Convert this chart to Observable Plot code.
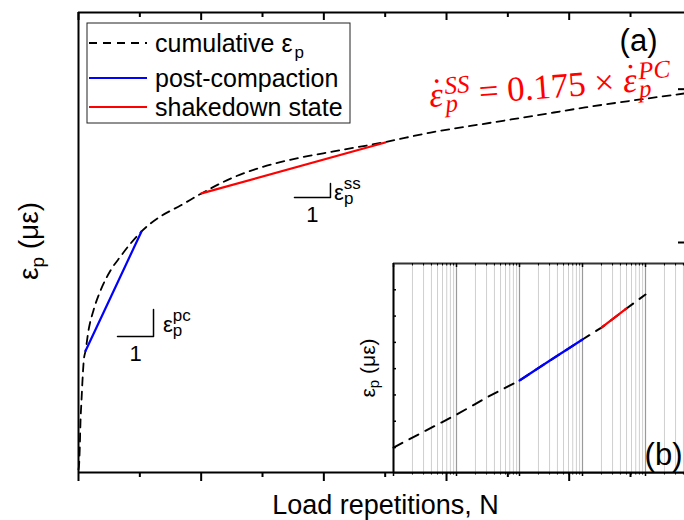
<!DOCTYPE html>
<html><head><meta charset="utf-8">
<script src="https://cdn.jsdelivr.net/npm/d3@7"></script>
<script src="https://cdn.jsdelivr.net/npm/@observablehq/plot@0.6"></script>
<style>
html,body{margin:0;padding:0;background:#fff;}
#wrap{position:relative;width:684px;height:520px;overflow:hidden;background:#fff;}
#wrap svg{position:absolute;}
</style></head>
<body><div id="wrap"></div>
<script>
const FONT = '"Liberation Sans", Arial, sans-serif';
const SERIF = '"Liberation Serif", "DejaVu Serif", serif';

// ---- main panel (a): cumulative permanent strain vs load repetitions ----
const mainN   = [0, 110, 210, 330, 490, 650, 860, 1140, 1630, 2440, 3590, 5220, 6850, 8480, 10270, 13370, 16630, 20050, 24800, 29700, 36200, 41600, 50000, 57400, 65500, 74500, 82600, 91600, 98800];
const mainEps = [20, 59, 163, 339, 470, 600, 731, 792, 926, 1057, 1187, 1317, 1409, 1493, 1572, 1670, 1741, 1820, 1917, 1989, 2054, 2094, 2155, 2217, 2270, 2328, 2381, 2433, 2472];
const pcN   = [1140, 10270];   // post-compaction segment
const pcEps = [792, 1572];
const ssN   = [20050, 50000];  // shakedown segment
const ssEps = [1820, 2152];
const xMajorTicks = [0, 20000, 40000, 60000, 80000];
const xMinorTicks = [10000, 30000, 50000, 70000, 90000];
const yRightTicks = [1500, 2500];
// slope triangles (N, eps)
const pcTriN   = [6360, 12230, 12230];
const pcTriEps = [887, 887, 1063];
const ssTriN   = [35210, 41080, 41080];
const ssTriEps = [1793, 1793, 1885];
const pcLabelAt = {N: 13860, eps: 913};
const ssLabelAt = {N: 41750, eps: 1774};
const eqAt = {N: 57400, eps: 2380};

// ---- inset (b): semi-log view ----
const insetN   = [10, 30, 100, 300, 1000, 3000, 10000, 20000, 50000, 100000];
const insetEps = [1.0, 1.6, 2.25, 2.9, 3.55, 4.3, 5.11, 5.56, 6.29, 6.82];
const insetPcN = [1000, 3000, 10000];
const insetPcEps = [3.55, 4.3, 5.11];
const insetSsN = [20000, 50000];
const insetSsEps = [5.56, 6.29];
const insetDecades = [10, 100, 1000, 10000, 100000, 1000000];
const insetYTicks = [1, 2, 3, 4, 5, 6, 7];

const legendItems = [
  {label: "cumulative ε", sub: "p", stroke: "#000", dash: "8,6", y: 43},
  {label: "post-compaction", sub: "", stroke: "#0000ff", dash: null, y: 78},
  {label: "shakedown state", sub: "", stroke: "#ff0000", dash: null, y: 107}
];

const zip = (xs, ys) => xs.map((N, i) => ({N, eps: ys[i]}));
const curve = zip(mainN, mainEps), pc = zip(pcN, pcEps), ss = zip(ssN, ssEps);
const pcTri = zip(pcTriN, pcTriEps), ssTri = zip(ssTriN, ssTriEps);

const W = 684, H = 520;
const main = Plot.plot({
  width: W, height: H,
  marginLeft: 78, marginRight: 0, marginTop: 12, marginBottom: 48,
  x: {domain: [0, 98800], axis: null},
  y: {domain: [0, 3000], axis: null},
  style: {fontFamily: FONT, background: "transparent", overflow: "visible", color: "#000"},
  marks: [
    Plot.line(curve, {x: "N", y: "eps", stroke: "#000", strokeWidth: 1.8, strokeDasharray: "8,6", curve: "monotone-x"}),
    Plot.line(pc, {x: "N", y: "eps", stroke: "#0000ff", strokeWidth: 2.2}),
    Plot.line(ss, {x: "N", y: "eps", stroke: "#ff0000", strokeWidth: 2.2}),
    Plot.line(pcTri, {x: "N", y: "eps", stroke: "#000", strokeWidth: 1.5}),
    Plot.line(ssTri, {x: "N", y: "eps", stroke: "#000", strokeWidth: 1.5}),
    Plot.text([pcTri, ssTri], {x: t => (t[0].N + t[1].N) / 2, y: t => t[0].eps, text: () => "1", dy: 17, fontSize: 22, lineAnchor: "middle", fill: "#000"}),
    Plot.ruleX([0], {stroke: "#000", strokeWidth: 2}),
    Plot.ruleY([0], {stroke: "#000", strokeWidth: 2}),
    Plot.ruleY([3000], {stroke: "#000", strokeWidth: 2}),
    Plot.tickX(xMajorTicks, {x: d => d, insetTop: 460, insetBottom: -9, stroke: "#000", strokeWidth: 2}),
    Plot.tickX(xMinorTicks, {x: d => d, insetTop: 460, insetBottom: -5, stroke: "#000", strokeWidth: 2}),
    Plot.tickX(xMajorTicks, {x: d => d, insetBottom: 452, stroke: "#000", strokeWidth: 2}),
    Plot.tickX(xMinorTicks, {x: d => d, insetBottom: 455, stroke: "#000", strokeWidth: 2}),
    Plot.tickY(yRightTicks, {y: d => d, insetLeft: 600, stroke: "#000", strokeWidth: 2}),
    Plot.text(["(a)"], {frameAnchor: "top-right", textAnchor: "end", dx: -27, dy: 28.5, fontSize: 31, lineAnchor: "middle", fill: "#000"}),
    Plot.text(["Load repetitions, N"], {frameAnchor: "bottom", dx: 4, dy: 33, fontSize: 27, lineAnchor: "middle", fill: "#000"})
  ]
});
main.style.left = "0px"; main.style.top = "0px";
document.getElementById("wrap").appendChild(main);

const sx = main.scale("x"), sy = main.scale("y");
const g = d3.select(main).append("g").attr("font-family", FONT).attr("fill", "#000").attr("text-anchor", "start");

// y axis label
const yl = g.append("text").attr("transform", "translate(38,241) rotate(-90)").attr("text-anchor", "middle").attr("font-size", 28);
yl.append("tspan").text("ε");
yl.append("tspan").attr("font-size", 19).attr("dy", 6).text("p");
yl.append("tspan").attr("dy", -6).text(" (με)");

// legend
g.append("rect").attr("x", 87).attr("y", 23).attr("width", 263).attr("height", 100)
  .attr("fill", "white").attr("stroke", "#222").attr("stroke-width", 1);
legendItems.forEach(it => {
  g.append("line").attr("x1", 89).attr("x2", 147).attr("y1", it.y).attr("y2", it.y)
    .attr("stroke", it.stroke).attr("stroke-width", 2).attr("stroke-dasharray", it.dash);
  const t = g.append("text").attr("x", 155).attr("y", it.y + 8.5).attr("font-size", 25);
  t.append("tspan").text(it.label);
  if (it.sub) t.append("tspan").attr("font-size", 17).attr("dx", 2).attr("dy", 6).text(it.sub);
});

// slope labels
function epsLabel(at, sup) {
  const t = g.append("text").attr("x", sx.apply(at.N)).attr("y", sy.apply(at.eps)).attr("font-size", 22);
  t.append("tspan").text("ε");
  t.append("tspan").attr("font-size", 17).attr("dy", 4).text("p");
  t.append("tspan").attr("font-size", 17).attr("dx", -9.5).attr("dy", -15).text(sup);
}
epsLabel(pcLabelAt, "pc");
epsLabel(ssLabelAt, "ss");

// equation
const eq = g.append("text")
  .attr("transform", `translate(${sx.apply(eqAt.N)},${sy.apply(eqAt.eps)}) rotate(-4.3)`)
  .attr("fill", "#ff0000").attr("font-family", SERIF).attr("font-size", 35);
function epsDot(sup) {
  eq.append("tspan").attr("font-style", "italic").text("ε");
  eq.append("tspan").attr("font-style", "normal").attr("dx", -11).attr("dy", -4).text("\u02D9");
  eq.append("tspan").attr("font-style", "italic").attr("font-size", 25).attr("dx", 1).attr("dy", 10).text("p");
  eq.append("tspan").attr("font-style", "italic").attr("font-size", 25).attr("dx", -12).attr("dy", -18).text(sup);
}
epsDot("SS");
eq.append("tspan").attr("dy", 12).text(" = 0.175 × ");
epsDot("PC");

// ---- inset ----
const insetScale = d3.scaleLog().domain([10, 1e6]);
const insetMinor = insetScale.ticks().filter(t => !insetDecades.includes(t));
const iCurve = zip(insetN, insetEps), iPc = zip(insetPcN, insetPcEps), iSs = zip(insetSsN, insetSsEps);

const inset = Plot.plot({
  width: 360, height: 250,
  marginLeft: 43, marginRight: 2, marginTop: 23, marginBottom: 18,
  x: {type: "log", domain: [10, 1e6], axis: null},
  y: {domain: [0.05, 8.0], axis: null},
  style: {fontFamily: FONT, background: "transparent", overflow: "visible", color: "#000"},
  marks: [
    Plot.frame({fill: "white", stroke: "none"}),
    Plot.ruleX(insetMinor, {x: d => d, stroke: "#cfcfcf", strokeWidth: 1}),
    Plot.ruleX(insetDecades, {x: d => d, stroke: "#9a9a9a", strokeWidth: 1.2}),
    Plot.line(iCurve, {x: "N", y: "eps", stroke: "#000", strokeWidth: 2, strokeDasharray: "10,8"}),
    Plot.line(iPc, {x: "N", y: "eps", stroke: "#0000ff", strokeWidth: 2.2}),
    Plot.line(iSs, {x: "N", y: "eps", stroke: "#ff0000", strokeWidth: 2.2}),
    Plot.ruleX([10], {stroke: "#000", strokeWidth: 2}),
    Plot.ruleY([0.05], {stroke: "#000", strokeWidth: 2}),
    Plot.ruleY([8.0], {stroke: "#333", strokeWidth: 2}),
    Plot.tickY(insetYTicks, {y: d => d, insetRight: 312, stroke: "#000", strokeWidth: 1.5}),
    Plot.tickX(insetMinor, {x: d => d, insetTop: 209, insetBottom: -2.5, stroke: "#000", strokeWidth: 1}),
    Plot.tickX(insetDecades, {x: d => d, insetTop: 209, insetBottom: -4, stroke: "#000", strokeWidth: 1.5}),
    Plot.tickX(insetMinor, {x: d => d, insetBottom: 206.5, stroke: "#000", strokeWidth: 1}),
    Plot.tickX(insetDecades, {x: d => d, insetBottom: 205, stroke: "#000", strokeWidth: 1.5}),
    Plot.text(["(b)"], {frameAnchor: "bottom-right", textAnchor: "end", dx: -26, dy: -17.5, fontSize: 31, lineAnchor: "middle", fill: "#000"})
  ]
});
inset.style.left = "350px"; inset.style.top = "240px";
document.getElementById("wrap").appendChild(inset);

const il = d3.select(inset).append("text").attr("font-family", FONT).attr("fill", "#000")
  .attr("transform", "translate(25,128) rotate(-90)").attr("text-anchor", "middle").attr("font-size", 21);
il.append("tspan").text("ε");
il.append("tspan").attr("font-size", 15).attr("dy", 4).text("p");
il.append("tspan").attr("dy", -4).text(" (με)");
</script>
</body></html>
